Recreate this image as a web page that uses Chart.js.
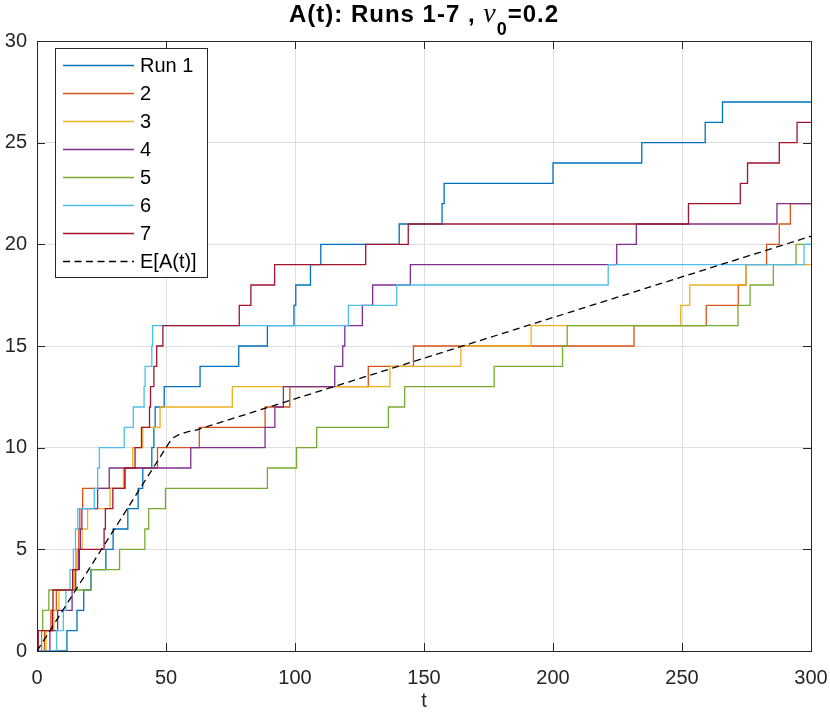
<!DOCTYPE html>
<html lang="en">
<head>
<meta charset="UTF-8">
<title>A(t): Runs 1-7</title>
<script src="https://cdn.jsdelivr.net/npm/chart.js@4.4.0/dist/chart.umd.min.js"></script>
<style>
  html, body { margin: 0; padding: 0; background: #fff; }
  #wrap { width: 830px; height: 721px; }
</style>
</head>
<body>
<div id="wrap"><canvas id="chart" width="830" height="721"></canvas></div>
<script>
// jump times of each run (each jump adds one arrival)
const run1 = [11.6, 15.5, 18.1, 20.9, 26.7, 29.5, 35.2, 39.2, 41.0, 44.5, 45.3, 45.8, 49.3, 63.2,
              78.2, 89.3, 99.6, 100.3, 106.0, 110.0, 140.4, 157.0, 157.8, 200.0, 234.4, 259.0, 265.7];
const run2 = [2.9, 5.4, 7.5, 14.4, 15.1, 16.2, 16.6, 17.7, 34.0, 46.7, 62.9, 88.4, 98.0, 128.4,
              145.9, 231.4, 259.4, 271.8, 274.8, 282.8, 287.7, 292.0];
const run3 = [3.5, 6.5, 8.5, 14.5, 15.0, 17.5, 19.6, 28.3, 33.5, 37.1, 41.0, 47.7, 75.7, 136.8,
              164.3, 191.5, 249.5, 253.0, 274.8];
const run4 = [5.0, 8.0, 13.6, 15.0, 16.0, 16.8, 17.4, 23.5, 28.0, 59.6, 88.4, 92.2, 95.5, 115.4,
              118.5, 119.3, 126.1, 130.1, 144.7, 224.7, 232.3, 286.8];
const run5 = [1.8, 2.2, 4.6, 21.0, 32.0, 41.8, 43.3, 49.8, 89.3, 100.6, 108.4, 136.2, 142.5, 177.2,
              203.7, 205.5, 271.7, 276.4, 285.4, 294.2];
const run6 = [7.6, 10.2, 11.2, 12.8, 14.1, 14.9, 15.8, 22.2, 23.5, 24.2, 33.8, 37.3, 41.5, 41.9,
              44.5, 44.8, 120.7, 139.4, 221.4, 297.3];
const run7 = [0.5, 6.0, 6.2, 13.8, 16.4, 26.0, 26.5, 29.4, 34.1, 38.0, 40.5, 43.6, 44.0, 45.3,
              46.4, 48.8, 78.4, 82.9, 92.1, 127.4, 143.9, 252.5, 272.6, 275.4, 287.7, 294.6];

const runs = [run1, run2, run3, run4, run5, run6, run7];
const runLabels = ['Run 1', '2', '3', '4', '5', '6', '7'];
const runColors = ['#0072BD', '#D95319', '#EDB120', '#7E2F8E', '#77AC30', '#4DBEEE', '#A2142F'];

// expected value curve E[A(t)]
const expT = [0, 45, 48, 50, 51, 52, 53, 55, 58, 62, 300];
const expA = [0, 9.0, 9.6, 10.0, 10.2, 10.38, 10.5, 10.64, 10.77, 10.88, 20.4];

const xTicks = [0, 50, 100, 150, 200, 250, 300];
const yTicks = [0, 5, 10, 15, 20, 25, 30];

const AXIS = '#262626';
const GRID = '#dfdfdf';
const FONT = '"Liberation Sans", Arial, Helvetica, sans-serif';
const T_END = 300;

function steps(times) {
  const pts = [{x: 0, y: 0}];
  times.forEach((t, i) => pts.push({x: t, y: i + 1}));
  pts.push({x: T_END, y: times.length});
  return pts;
}

const datasets = runs.map((r, i) => ({
  label: runLabels[i],
  data: steps(r),
  borderColor: runColors[i],
  borderWidth: 1.3,
  stepped: true,
  pointRadius: 0,
  fill: false,
  order: -i
}));
datasets.push({
  label: 'E[A(t)]',
  data: expT.map((t, i) => ({x: t, y: expA[i]})),
  borderColor: '#000000',
  borderWidth: 1.3,
  borderDash: [7, 4.5],
  pointRadius: 0,
  fill: false,
  order: -10
});

// box around the axes with inward ticks on all four sides
const boxPlugin = {
  id: 'box',
  beforeDatasetsDraw(chart) {
    const {ctx, chartArea: a, scales} = chart;
    const len = 8;
    ctx.save();
    ctx.strokeStyle = AXIS;
    ctx.lineWidth = 1;
    ctx.beginPath();
    xTicks.forEach(v => {
      const x = Math.round(scales.x.getPixelForValue(v)) + 0.5;
      ctx.moveTo(x, a.bottom); ctx.lineTo(x, a.bottom - len);
      ctx.moveTo(x, a.top); ctx.lineTo(x, a.top + len);
    });
    yTicks.forEach(v => {
      const y = Math.round(scales.y.getPixelForValue(v)) + 0.5;
      ctx.moveTo(a.left, y); ctx.lineTo(a.left + len, y);
      ctx.moveTo(a.right, y); ctx.lineTo(a.right - len, y);
    });
    ctx.stroke();
    ctx.strokeRect(Math.round(a.left) + 0.5, Math.round(a.top) + 0.5,
                   Math.round(a.right - a.left), Math.round(a.bottom - a.top));
    ctx.restore();
  }
};

// legend box in the upper left corner
const legendPlugin = {
  id: 'boxLegend',
  afterDraw(chart) {
    const ctx = chart.ctx;
    const sets = chart.data.datasets;
    const x0 = 55.5, y0 = 48.5, w = 152, rowH = 28;
    const h = rowH * sets.length + 5;
    ctx.save();
    ctx.fillStyle = '#ffffff';
    ctx.fillRect(x0, y0, w, h);
    ctx.strokeStyle = AXIS;
    ctx.lineWidth = 1;
    ctx.strokeRect(x0, y0, w, h);
    ctx.font = '20px ' + FONT;
    ctx.textBaseline = 'middle';
    ctx.textAlign = 'left';
    sets.forEach((ds, i) => {
      const y = y0 + 17 + i * rowH;
      ctx.beginPath();
      ctx.strokeStyle = ds.borderColor;
      ctx.lineWidth = ds.borderWidth;
      ctx.setLineDash(ds.borderDash || []);
      ctx.moveTo(63, y);
      ctx.lineTo(134, y);
      ctx.stroke();
      ctx.setLineDash([]);
      ctx.fillStyle = '#000000';
      ctx.fillText(ds.label, 140, y + 1);
    });
    ctx.restore();
  }
};

// title with subscript, and the x axis label
const textPlugin = {
  id: 'texts',
  afterDraw(chart) {
    const {ctx, chartArea: a} = chart;
    const cx = (a.left + a.right) / 2;
    const parts = [
      {text: 'A(t): Runs 1-7 , ', font: 'bold 24px ' + FONT, dy: 0},
      {text: 'ν', font: 'italic 28px "Liberation Serif", "DejaVu Serif", serif', dy: 0},
      {text: '0', font: 'bold 18px ' + FONT, dy: 13},
      {text: '=0.2', font: 'bold 24px ' + FONT, dy: 0}
    ];
    ctx.save();
    ctx.fillStyle = '#000000';
    ctx.textBaseline = 'alphabetic';
    ctx.textAlign = 'left';
    ctx.letterSpacing = '1px';
    let total = 0;
    parts.forEach(p => { ctx.font = p.font; p.w = ctx.measureText(p.text).width; total += p.w; });
    let x = cx - total / 2;
    parts.forEach(p => {
      ctx.font = p.font;
      ctx.fillText(p.text, x, 22 + p.dy);
      x += p.w;
    });
    ctx.letterSpacing = '0px';
    ctx.font = '20px ' + FONT;
    ctx.textAlign = 'center';
    ctx.fillStyle = AXIS;
    ctx.fillText('t', cx, 707);
    ctx.restore();
  }
};

new Chart(document.getElementById('chart'), {
  type: 'line',
  data: { datasets: datasets },
  options: {
    responsive: false,
    devicePixelRatio: 1,
    animation: false,
    layout: { padding: { top: 41, right: 19, left: 0, bottom: 0 } },
    plugins: {
      legend: { display: false },
      title: { display: false },
      tooltip: { enabled: false }
    },
    scales: {
      x: {
        type: 'linear',
        min: 0,
        max: 300,
        afterBuildTicks: s => { s.ticks = xTicks.map(v => ({value: v})); },
        afterFit: s => { s.height = 70; s.paddingLeft = 0; s.paddingRight = 0; },
        grid: { color: GRID, drawTicks: false },
        border: { display: false },
        ticks: { font: { size: 20, family: FONT }, color: AXIS, padding: 15, maxRotation: 0, autoSkip: false }
      },
      y: {
        type: 'linear',
        min: 0,
        max: 30,
        afterBuildTicks: s => { s.ticks = yTicks.map(v => ({value: v})); },
        afterFit: s => { s.width = 37; s.paddingTop = 0; s.paddingBottom = 0; },
        grid: { color: GRID, drawTicks: false },
        border: { display: false },
        ticks: { font: { size: 20, family: FONT }, color: AXIS, padding: 10, autoSkip: false }
      }
    }
  },
  plugins: [boxPlugin, legendPlugin, textPlugin]
});
</script>
</body>
</html>
